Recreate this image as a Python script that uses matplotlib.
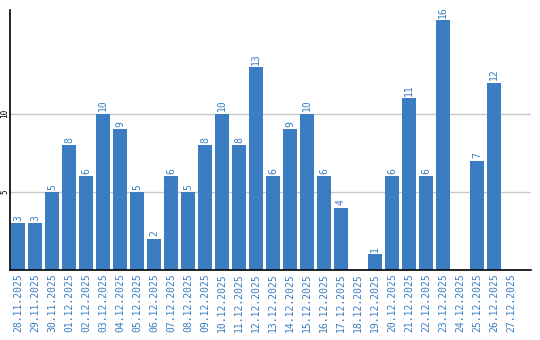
import numpy as np
import matplotlib
matplotlib.use("Agg")
import matplotlib.pyplot as plt

# data
dates = ["28.11.2025", "29.11.2025", "30.11.2025", "01.12.2025", "02.12.2025",
         "03.12.2025", "04.12.2025", "05.12.2025", "06.12.2025", "07.12.2025",
         "08.12.2025", "09.12.2025", "10.12.2025", "11.12.2025", "12.12.2025",
         "13.12.2025", "14.12.2025", "15.12.2025", "16.12.2025", "17.12.2025",
         "18.12.2025", "19.12.2025", "20.12.2025", "21.12.2025", "22.12.2025",
         "23.12.2025", "24.12.2025", "25.12.2025", "26.12.2025", "27.12.2025"]
counts = [3, 3, 5, 8, 6, 10, 9, 5, 2, 6,
          5, 8, 10, 8, 13, 6, 9, 10, 6, 4,
          0, 1, 6, 11, 6, 16, 0, 7, 12, 0]
yticks = [5, 10]

blue = "#3a7dc2"
mono = "DejaVu Sans Mono"

fig = plt.figure(figsize=(5.4, 3.4), dpi=100)
ax = fig.add_axes([10/540, 70/340, 521/540, 260/340])

x = np.arange(len(dates))
ax.bar(x, counts, width=0.82, color=blue, zorder=2)

# value labels above bars (skip empty days)
for xi, c in zip(x, counts):
    if c > 0:
        ax.text(xi, c + 0.15, str(c), rotation=90, ha="center", va="bottom",
                color=blue, fontsize=7, family=mono)

ax.set_xlim(-0.47, 30.18)
ax.set_ylim(0, 16.64)
ax.set_xticks(x)
ax.set_xticklabels(dates, rotation=90, color=blue, fontsize=7, family=mono)
ax.set_yticks(yticks)
ax.set_yticklabels([str(v) for v in yticks], rotation=90, va="center",
                   fontsize=5.5, family=mono)
ax.tick_params(axis="x", length=0, pad=2)
ax.tick_params(axis="y", length=0, pad=0.5)
ax.grid(axis="y", color="#c8c8c8", linewidth=1, zorder=0)
for s in ["top", "right"]:
    ax.spines[s].set_visible(False)
ax.spines["left"].set_linewidth(1.2)
ax.spines["bottom"].set_linewidth(1.2)

fig.savefig("out.png", dpi=100)
